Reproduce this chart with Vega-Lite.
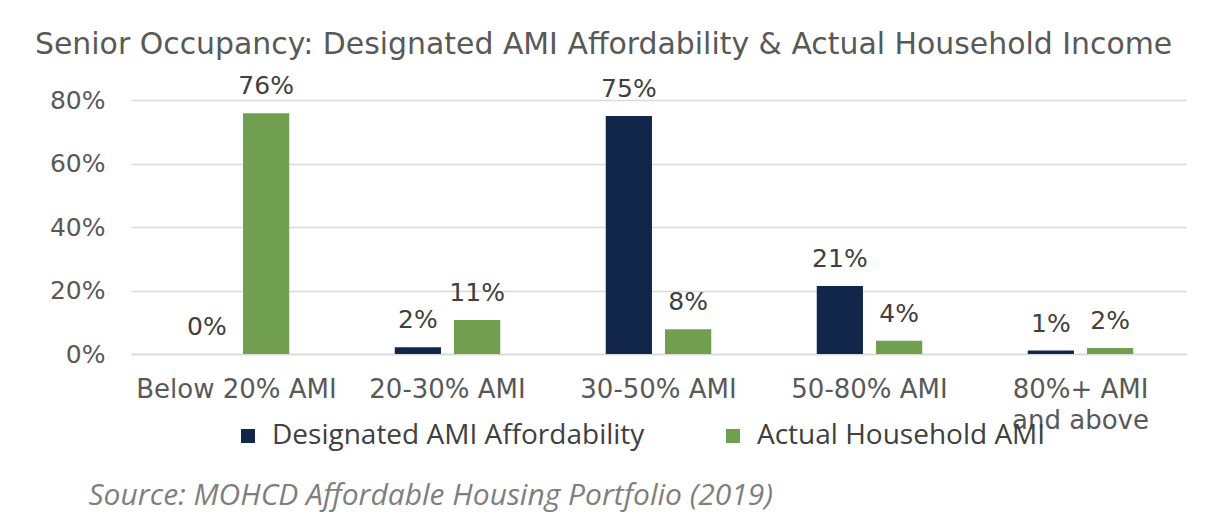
{
  "$schema": "https://vega.github.io/schema/vega-lite/v6.json",
  "width": 1055,
  "height": 254,
  "autosize": {"type": "none"},
  "padding": {"left": 131, "top": 100, "right": 33, "bottom": 167},
  "background": "white",
  "title": {
    "text": "Senior Occupancy: Designated AMI Affordability & Actual Household Income",
    "anchor": "start",
    "frame": "group",
    "dx": -96,
    "offset": 45,
    "dy": 55,
    "font": "DejaVu Sans",
    "fontSize": 29.9,
    "fontWeight": "normal",
    "color": "#595959",
    "baseline": "alphabetic"
  },
  "data": {
    "values": [
      {"category": "Below 20% AMI", "series": "Designated AMI Affordability", "value": 0.0},
      {"category": "Below 20% AMI", "series": "Actual Household AMI", "value": 0.758},
      {"category": "20-30% AMI", "series": "Designated AMI Affordability", "value": 0.021},
      {"category": "20-30% AMI", "series": "Actual Household AMI", "value": 0.107},
      {"category": "30-50% AMI", "series": "Designated AMI Affordability", "value": 0.75},
      {"category": "30-50% AMI", "series": "Actual Household AMI", "value": 0.078},
      {"category": "50-80% AMI", "series": "Designated AMI Affordability", "value": 0.214},
      {"category": "50-80% AMI", "series": "Actual Household AMI", "value": 0.042},
      {"category": "80%+ AMI and above", "series": "Designated AMI Affordability", "value": 0.011},
      {"category": "80%+ AMI and above", "series": "Actual Household AMI", "value": 0.019}
    ]
  },
  "encoding": {
    "x": {
      "field": "category",
      "type": "nominal",
      "sort": ["Below 20% AMI", "20-30% AMI", "30-50% AMI", "50-80% AMI", "80%+ AMI and above"],
      "scale": {"paddingInner": 0.5, "paddingOuter": 0.25},
      "axis": {
        "title": "Source: MOHCD Affordable Housing Portfolio (2019)",
        "titleFont": "Open Sans",
        "titleFontStyle": "italic",
        "titleFontWeight": "normal",
        "titleFontSize": 30,
        "titleColor": "#7f7f7f",
        "titleAnchor": "start",
        "titleAlign": "left",
        "titleBaseline": "alphabetic",
        "titleX": -43,
        "titleY": 150,
        "labelAngle": 0,
        "ticks": false,
        "tickSize": 0,
        "grid": false,
        "domainColor": "#d9d9d9",
        "domainWidth": 1.5,
        "labelFont": "DejaVu Sans",
        "labelFontSize": 26,
        "labelColor": "#595959",
        "labelBaseline": "alphabetic",
        "labelPadding": 43,
        "labelLineHeight": 31,
        "labelLimit": 0,
        "labelExpr": "datum.label == '80%+ AMI and above' ? ['80%+ AMI', 'and above'] : datum.label"
      }
    },
    "xOffset": {
      "field": "series",
      "type": "nominal",
      "sort": ["Designated AMI Affordability", "Actual Household AMI"],
      "scale": {"paddingInner": 0.22, "paddingOuter": 0}
    },
    "y": {
      "field": "value",
      "type": "quantitative",
      "scale": {"domain": [0, 0.8]},
      "axis": {
        "values": [0, 0.2, 0.4, 0.6, 0.8],
        "format": ".0%",
        "title": null,
        "domain": false,
        "ticks": false,
        "tickSize": 0,
        "labelPadding": 26,
        "labelFont": "DejaVu Sans",
        "labelFontSize": 25,
        "labelColor": "#595959",
        "gridColor": "#d9d9d9",
        "gridWidth": 1.5
      }
    }
  },
  "layer": [
    {
      "mark": {"type": "bar"},
      "encoding": {
        "color": {
          "field": "series",
          "type": "nominal",
          "scale": {
            "domain": ["Designated AMI Affordability", "Actual Household AMI"],
            "range": ["#12264A", "#70A04F"]
          },
          "legend": {
            "orient": "none",
            "legendX": 103,
            "legendY": 322,
            "direction": "horizontal",
            "title": null,
            "symbolType": "square",
            "symbolSize": 196,
            "symbolStrokeWidth": 0,
            "labelFont": "Open Sans",
            "labelFontSize": 28,
            "labelColor": "#404040",
            "labelOffset": 10,
            "columnPadding": 74,
            "labelLimit": 0
          }
        }
      }
    },
    {
      "mark": {
        "type": "text",
        "dy": -19,
        "baseline": "alphabetic",
        "font": "DejaVu Sans",
        "fontSize": 25,
        "color": "#404040"
      },
      "encoding": {
        "text": {"field": "value", "type": "quantitative", "format": ".0%"}
      }
    }
  ],
  "config": {"view": {"stroke": null}}
}
